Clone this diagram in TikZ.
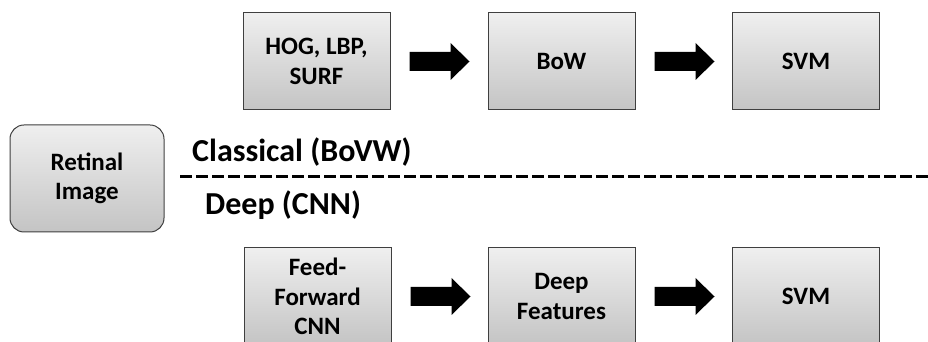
\documentclass[tikz,border=0pt]{standalone}
\usepackage{fontspec}
\setmainfont{Carlito}
\usetikzlibrary{calc}
\definecolor{edgegray}{HTML}{3F3F3F}
\definecolor{topgray}{HTML}{EFEFEF}
\definecolor{botgray}{HTML}{C4C4C4}
\tikzset{
  stagebox/.style={draw=edgegray, line width=1pt, top color=topgray, bottom color=botgray,
    minimum width=147pt, minimum height=97pt, align=center, inner sep=0pt,
    font=\bfseries\fontsize{25}{29.5}\selectfont},
  inputbox/.style={stagebox, rounded corners=14pt, minimum width=154pt, minimum height=107pt},
  header/.style={inner sep=0pt, anchor=base west, font=\bfseries\fontsize{32}{37}\selectfont},
  divider/.style={line width=3pt, dash pattern=on 12pt off 4pt},
  blockfill/.style={fill=black}
}
\newcommand{\blockarrow}[1]{%
  \fill[blockfill] ($(#1.east)+(19,9.5)$) -- ($(#1.east)+(60,9.5)$) -- ($(#1.east)+(60,18.5)$)
    -- ($(#1.east)+(79,0)$) -- ($(#1.east)+(60,-18.5)$) -- ($(#1.east)+(60,-9.5)$)
    -- ($(#1.east)+(19,-9.5)$) -- cycle;}
\begin{document}
\begin{tikzpicture}[x=1pt,y=1pt]
\useasboundingbox (0,0) rectangle (928,342);
\node[inputbox] (img) at (87,163.5) {Retinal\\Image};
\node[stagebox] (hog) at (316.5,280.5) {HOG, LBP,\\SURF};
\node[stagebox] (bow) at (561.5,280.5) {BoW};
\node[stagebox] (svma) at (806,280.5) {SVM};
\node[stagebox] (cnn) at (317.5,45.5) {Feed-\\Forward\\CNN};
\node[stagebox] (feat) at (561.5,45.5) {Deep\\Features};
\node[stagebox] (svmb) at (806,45.5) {SVM};
\blockarrow{hog}
\blockarrow{bow}
\blockarrow{cnn}
\blockarrow{feat}
\coordinate (dl) at (180,165);
\coordinate (dr) at (928,165);
\draw[divider] (dl) -- (dr);
\node[header] (cls) at (192,180) {Classical (BoVW)};
\node[header] (dp) at (205,127) {Deep (CNN)};
\end{tikzpicture}
\end{document}
